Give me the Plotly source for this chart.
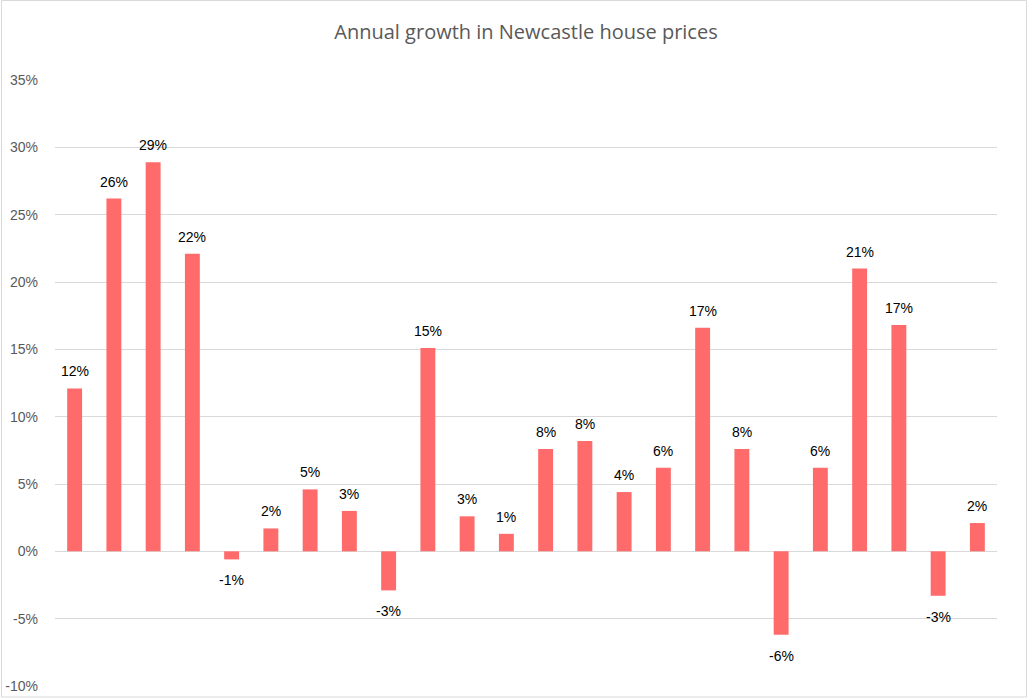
import plotly.graph_objects as go

categories = [f"Y{i}" for i in range(1, 25)]
growth = [12.1, 26.2, 28.9, 22.1, -0.6, 1.7, 4.6, 3.0, -2.9, 15.1, 2.6, 1.3,
          7.6, 8.2, 4.4, 6.2, 16.6, 7.6, -6.2, 6.2, 21.0, 16.8, -3.3, 2.1]
tick_values = [-10, -5, 0, 5, 10, 15, 20, 25, 30, 35]
tick_labels = ["-10%", "-5%", "0%", "5%", "10%", "15%", "20%", "25%", "30%", "35%"]

values = [g / 100 for g in growth]
labels = [f"{round(g):.0f}%" for g in growth]

W, H = 1029, 699
L, R, T, B = 55, 32, 80, 13
pw, ph = W - L - R, H - T - B

fig = go.Figure(go.Bar(
    x=categories, y=values,
    marker=dict(color="#FF6B6B", line=dict(width=0)),
    cliponaxis=False, hoverinfo="skip",
))

annotations = []
for c, v, t in zip(categories, values, labels):
    annotations.append(dict(
        x=c, y=v, xref="x", yref="y", text=t, showarrow=False,
        yanchor="middle", xanchor="center",
        yshift=17 if v >= 0 else -21,
        font=dict(family="Liberation Sans, Arial", size=14, color="#000000"),
    ))

def px_x(p):
    return (p - L) / pw

def px_y(p):
    return (H - B - p) / ph

fig.update_layout(
    width=W, height=H,
    margin=dict(l=L, r=R, t=T, b=B, autoexpand=False),
    paper_bgcolor="white", plot_bgcolor="white",
    bargap=0.62,
    showlegend=False,
    annotations=annotations,
    title=dict(text="Annual growth in Newcastle house prices", x=0.5, xref="paper",
               xanchor="center", y=1 - 32 / H, yanchor="middle",
               font=dict(family="Open Sans, Lato, sans-serif", size=20, color="#595959")),
    xaxis=dict(type="category", showticklabels=False, showgrid=False, zeroline=False,
               showline=False, ticks="", automargin=False),
    yaxis=dict(range=[-0.10, 0.35], tickmode="array",
               tickvals=[v / 100 for v in tick_values], ticktext=tick_labels,
               showgrid=True, gridcolor="#D9D9D9", gridwidth=1,
               zeroline=True, zerolinecolor="#D9D9D9", zerolinewidth=1,
               showline=False, ticks="", ticklabelstandoff=16, automargin=False,
               tickfont=dict(family="Liberation Sans, Arial", size=14, color="#595959")),
    shapes=[dict(type="rect", xref="paper", yref="paper",
                 x0=px_x(1.5), x1=px_x(1026.5), y0=px_y(697), y1=px_y(0.5),
                 line=dict(color="#D9D9D9", width=1), fillcolor="rgba(0,0,0,0)",
                 layer="below")],
)

fig.write_html("out.html", config={"displayModeBar": False},
               post_script="document.body.style.margin='0';document.body.style.overflow='hidden';")
